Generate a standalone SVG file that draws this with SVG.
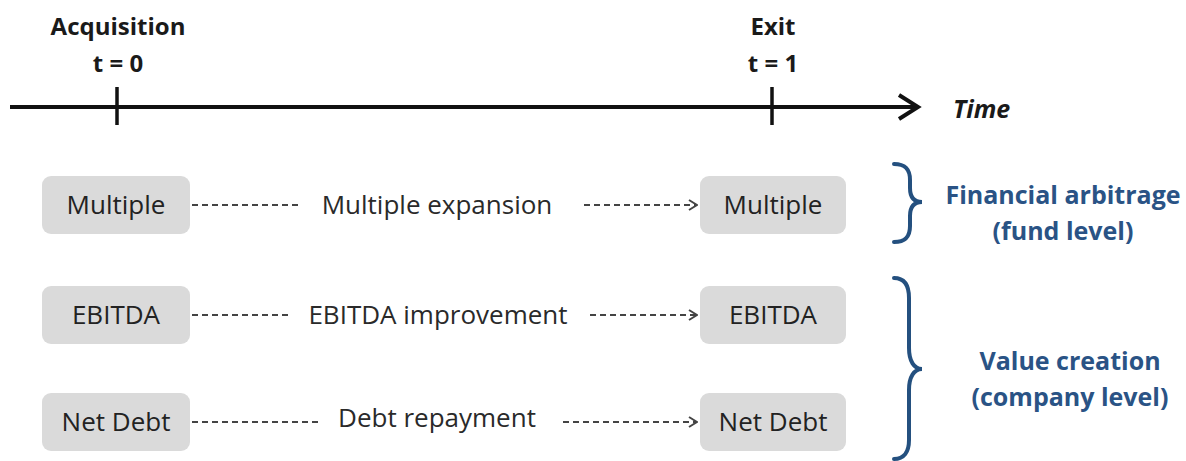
<svg xmlns="http://www.w3.org/2000/svg" width="1186" height="461" viewBox="0 0 1186 461">
  <style>
    .head { font-family: "Open Sans", "Liberation Sans", sans-serif; font-weight: bold; font-size: 24px; fill: #1a1a1a; text-anchor: middle; }
    .box { fill: #dadada; }
    .boxtxt { font-family: "Open Sans", "Liberation Sans", sans-serif; font-size: 26px; fill: #222222; text-anchor: middle; }
    .lbl { font-family: "Open Sans", "Liberation Sans", sans-serif; font-size: 26px; fill: #2a2a2a; text-anchor: middle; }
    .dash { stroke: #444444; stroke-width: 2; stroke-dasharray: 6 4; fill: none; }
    .brace { stroke: #24507f; stroke-width: 4; fill: none; stroke-linecap: round; }
    .grp { font-family: "Open Sans", "Liberation Sans", sans-serif; font-weight: bold; font-size: 25px; fill: #2a5385; text-anchor: middle; }
  </style>
  <defs>
    <marker id="chev" viewBox="0 0 10 12" refX="9" refY="6" markerWidth="10" markerHeight="12" markerUnits="userSpaceOnUse" orient="auto">
      <polyline points="1,1 9,6 1,11" fill="none" stroke="#444444" stroke-width="2"/>
    </marker>
  </defs>

  <!-- Time axis -->
  <g id="timeline">
    <line x1="10" y1="107" x2="917" y2="107" stroke="#111" stroke-width="4"/>
    <polyline points="899,95 918,107 899,119" fill="none" stroke="#111" stroke-width="4" stroke-linejoin="miter"/>
    <line x1="117" y1="87" x2="117" y2="125" stroke="#111" stroke-width="3.5"/>
    <line x1="772" y1="87" x2="772" y2="125" stroke="#111" stroke-width="3.5"/>
    <text class="head" x="118" y="35">Acquisition</text>
    <text class="head" x="118" y="72">t = 0</text>
    <text class="head" x="773" y="35">Exit</text>
    <text class="head" x="773" y="72">t = 1</text>
    <text x="953" y="118" font-family="Open Sans, Liberation Sans, sans-serif" font-size="25" font-weight="bold" font-style="italic" fill="#1a1a1a">Time</text>
  </g>

  <!-- Nodes at acquisition -->
  <g id="multiple-t0"><rect class="box" x="42" y="176" width="148" height="58" rx="9"/><text class="boxtxt" x="116" y="214">Multiple</text></g>
  <g id="ebitda-t0"><rect class="box" x="42" y="286" width="148" height="58" rx="9"/><text class="boxtxt" x="116" y="324">EBITDA</text></g>
  <g id="netdebt-t0"><rect class="box" x="42" y="393" width="148" height="58" rx="9"/><text class="boxtxt" x="116" y="431">Net Debt</text></g>

  <!-- Nodes at exit -->
  <g id="multiple-t1"><rect class="box" x="700" y="176" width="146" height="58" rx="9"/><text class="boxtxt" x="773" y="214">Multiple</text></g>
  <g id="ebitda-t1"><rect class="box" x="700" y="286" width="146" height="58" rx="9"/><text class="boxtxt" x="773" y="324">EBITDA</text></g>
  <g id="netdebt-t1"><rect class="box" x="700" y="393" width="146" height="58" rx="9"/><text class="boxtxt" x="773" y="431">Net Debt</text></g>

  <!-- Connectors with their labels -->
  <g id="connectors">
    <line class="dash" x1="192" y1="205" x2="300" y2="205"/>
    <line class="dash" x1="584" y1="205" x2="697" y2="205" marker-end="url(#chev)"/>
    <text class="lbl" x="437" y="214">Multiple expansion</text>

    <line class="dash" x1="192" y1="315" x2="290" y2="315"/>
    <line class="dash" x1="590" y1="315" x2="697" y2="315" marker-end="url(#chev)"/>
    <text class="lbl" x="438" y="324">EBITDA improvement</text>

    <line class="dash" x1="192" y1="422" x2="322" y2="422"/>
    <line class="dash" x1="563" y1="422" x2="697" y2="422" marker-end="url(#chev)"/>
    <text class="lbl" x="437" y="427">Debt repayment</text>
  </g>

  <!-- Group braces and labels -->
  <g id="financial-arbitrage">
    <path class="brace" d="M894,164 C905,164 910,169 910,180 L910,188 C910,197 914,202 922,202 C914,202 910,207 910,216 L910,226 C910,237 905,242 894,242"/>
    <text class="grp" x="1063" y="204">Financial arbitrage</text>
    <text class="grp" x="1063" y="240">(fund level)</text>
  </g>
  <g id="value-creation">
    <path class="brace" d="M894,278 C904,278 909,285 909,298 L909,348 C909,361 914,369 922,369 C914,369 909,377 909,390 L909,440 C909,452 904,459 894,459"/>
    <text class="grp" x="1070" y="370">Value creation</text>
    <text class="grp" x="1070" y="406">(company level)</text>
  </g>
</svg>
